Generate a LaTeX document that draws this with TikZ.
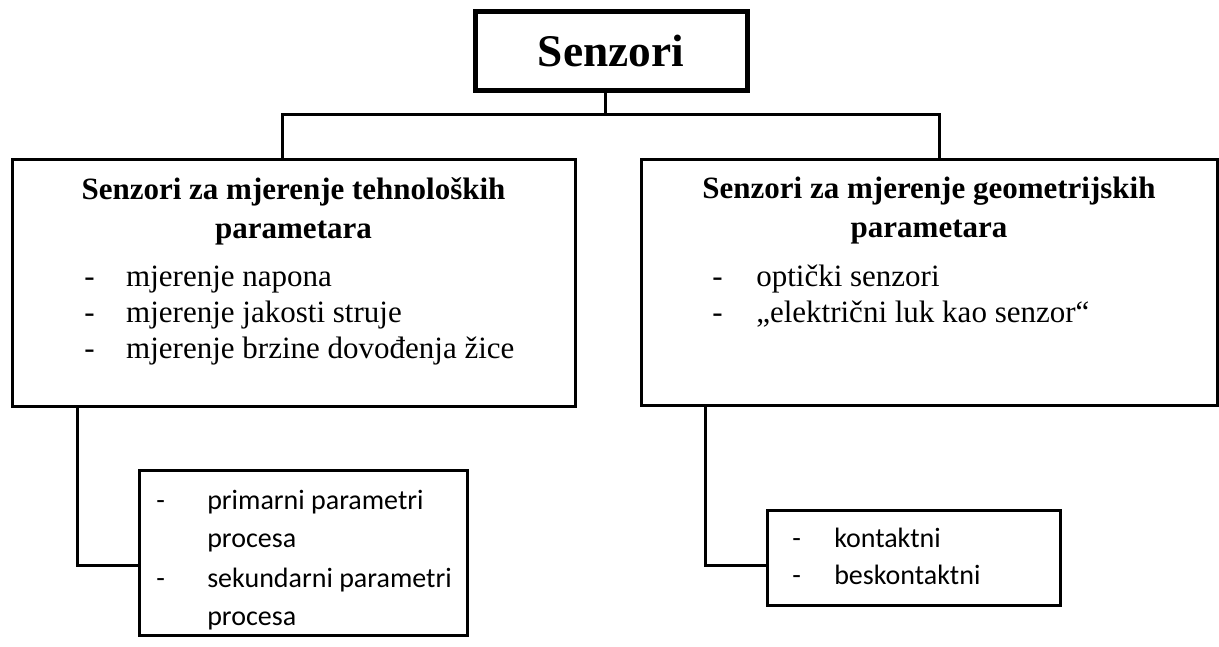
\documentclass[tikz,border=0pt]{standalone}
\usepackage{fontspec}
\setmainfont{Liberation Serif}
\newfontfamily\calibri{Carlito}
\usetikzlibrary{calc}
\tikzset{
  box/.style={draw, line width=2.25pt, inner sep=0pt, outer sep=0pt},
  link/.style={line width=2.25pt},
  head/.style={font=\fontsize{23.25}{29.25}\selectfont\bfseries, align=center},
  listtext/.style={font=\fontsize{23.25}{27}\selectfont, anchor=base west, inner sep=0pt},
  smalltext/.style={font=\calibri\fontsize{21}{29}\selectfont, anchor=base west, inner sep=0pt},
}
\newcommand{\dashitem}[2]{\makebox[#1][l]{-}#2}
\begin{document}
\begin{tikzpicture}[x=0.75pt,y=-0.75pt]
\useasboundingbox (0,0) rectangle (1219,646);
% boxes
\node[box, line width=3.75pt, minimum width=204pt, minimum height=59.25pt, font=\fontsize{34}{40}\selectfont\bfseries] (senzori) at (611,50.5) {Senzori};
\node[box, minimum width=422.25pt, minimum height=185.25pt] (tehno) at (293.5,282.5) {};
\node[box, minimum width=432pt, minimum height=184.5pt] (geom) at (929,282) {};
\node[box, minimum width=246pt, minimum height=123.75pt] (tparam) at (303,552.5) {};
\node[box, minimum width=219.75pt, minimum height=71.25pt] (gparam) at (913.5,557.5) {};
% connectors
\coordinate (hub) at (605,114);
\draw[link] ($(senzori.south)+(-6,0)$) -- (hub);
\draw[link] ($(tehno.north)+(-11,0)$) |- (hub) -| ($(geom.north)+(10,0)$);
\draw[link] ($(tehno.south west)+(65,0)$) |- ($(tparam.west)+(0,12.5)$);
\draw[link] ($(geom.south west)+(64,0)$) |- ($(gparam.west)+(0,7.5)$);
% texts
\node[head] (tehnot) at (293.5,211) {Senzori za mjerenje tehnoloških\\parametara};
\node[head] (geomt) at (929,211) {Senzori za mjerenje geometrijskih\\parametara};
\foreach \t [count=\i] in {mjerenje napona, mjerenje jakosti struje, mjerenje brzine dovođenja žice}
  \node[listtext] (tehno\i) at (84,250+36*\i) {\dashitem{31.5pt}{\t}};
\foreach \t [count=\i] in {optički senzori, „električni luk kao senzor“}
  \node[listtext] (geom\i) at (712,250+36*\i) {\dashitem{33pt}{\t}};
\node[smalltext] (prim) at (156,509) {\dashitem{38.25pt}{primarni parametri}};
\node[smalltext] (primb) at (207,547) {procesa};
\node[smalltext] (sek) at (156,587) {\dashitem{38.25pt}{sekundarni parametri}};
\node[smalltext] (sekb) at (207,625) {procesa};
\node[smalltext] (kont) at (792,547) {\dashitem{31.5pt}{kontaktni}};
\node[smalltext] (beskont) at (792,584) {\dashitem{31.5pt}{beskontaktni}};
\end{tikzpicture}
\end{document}
